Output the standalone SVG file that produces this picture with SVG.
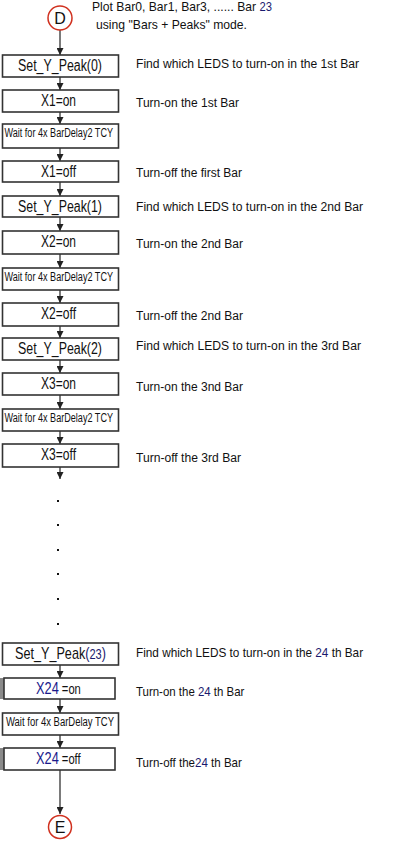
<svg xmlns="http://www.w3.org/2000/svg" width="406" height="841" viewBox="0 0 406 841">
<style>
.box{fill:#fff;stroke:#333;stroke-width:1.6}
.lbl{font-family:"Liberation Sans",Arial,sans-serif;font-size:16px;fill:#111}
.wt{font-family:"Liberation Sans",Arial,sans-serif;font-size:12.5px;fill:#111}
.cm{font-family:"Liberation Sans",Arial,sans-serif;font-size:12px;fill:#111}
.nv{fill:#1a1a6e}
.bl{fill:#1a1a8c}
.term{fill:#fff;stroke:#d0301e;stroke-width:1.5}
.conn line{stroke:#222;stroke-width:1.2;marker-end:url(#ah)}
.dot{fill:#111}
</style>
<defs>
<marker id="ah" markerUnits="userSpaceOnUse" markerWidth="7" markerHeight="7" refX="7" refY="3.5" orient="auto">
<path d="M0,0 L7,3.5 L0,7 z" fill="#222"/>
</marker>
</defs>
<rect width="406" height="841" fill="#fff"/>

<g id="title">
<text class="lbl" transform="translate(92,11) scale(0.935,1)" style="font-size:13px">Plot Bar0, Bar1, Bar3, ...... Bar <tspan class="nv" style="font-size:12px">23</tspan></text>
<text class="lbl" x="96" y="29" style="font-size:13px" textLength="151" lengthAdjust="spacingAndGlyphs">using "Bars + Peaks" mode.</text>
</g>

<g class="conn">
<line x1="60" y1="30" x2="60" y2="55"/>
<line x1="60" y1="77" x2="60" y2="90"/>
<line x1="60" y1="112" x2="60" y2="124"/>
<line x1="60" y1="148" x2="60" y2="161"/>
<line x1="60" y1="182" x2="60" y2="196"/>
<line x1="60" y1="217" x2="60" y2="231"/>
<line x1="60" y1="254" x2="60" y2="268"/>
<line x1="60" y1="290" x2="60" y2="303"/>
<line x1="60" y1="326" x2="60" y2="338"/>
<line x1="60" y1="360" x2="60" y2="373"/>
<line x1="60" y1="395" x2="60" y2="409"/>
<line x1="60" y1="431" x2="60" y2="444"/>
<line x1="60" y1="467" x2="60" y2="479"/>
<line x1="60" y1="665" x2="60" y2="678"/>
<line x1="60" y1="699" x2="60" y2="713"/>
<line x1="60" y1="735" x2="60" y2="748"/>
<line x1="60" y1="770" x2="60" y2="814"/>
</g>

<g id="dots">
<rect class="dot" x="57" y="500" width="2" height="2"/>
<rect class="dot" x="57" y="524" width="2" height="2"/>
<rect class="dot" x="57" y="549" width="2" height="2"/>
<rect class="dot" x="57" y="573" width="2" height="2"/>
<rect class="dot" x="57" y="598" width="2" height="2"/>
<rect class="dot" x="57" y="623" width="2" height="2"/>
</g>

<g id="D">
<circle class="term" cx="60" cy="18" r="12"/>
<text class="lbl" x="60" y="24" text-anchor="middle">D</text>
</g>

<g id="n1">
<rect class="box" x="2.5" y="55" width="116" height="22"/>
<text class="lbl" x="18" y="71" textLength="84" lengthAdjust="spacingAndGlyphs">Set_Y_Peak(0)</text>
<text class="cm" x="136" y="68" textLength="223" lengthAdjust="spacingAndGlyphs">Find which LEDS to turn-on in the 1st Bar</text>
</g>
<g id="n2">
<rect class="box" x="2.5" y="90" width="116" height="22"/>
<text class="lbl" x="41" y="106" textLength="35" lengthAdjust="spacingAndGlyphs">X1=on</text>
<text class="cm" x="136" y="107" textLength="103" lengthAdjust="spacingAndGlyphs">Turn-on the 1st Bar</text>
</g>
<g id="n3">
<rect class="box" x="2.5" y="124" width="116" height="24"/>
<text class="wt" x="4.5" y="136.5" textLength="108.5" lengthAdjust="spacingAndGlyphs">Wait for 4x BarDelay2 TCY</text>
</g>
<g id="n4">
<rect class="box" x="2.5" y="161" width="116" height="21"/>
<text class="lbl" x="41" y="177" textLength="35" lengthAdjust="spacingAndGlyphs">X1=off</text>
<text class="cm" x="136" y="177" textLength="106" lengthAdjust="spacingAndGlyphs">Turn-off the first Bar</text>
</g>
<g id="n5">
<rect class="box" x="2.5" y="196" width="116" height="21"/>
<text class="lbl" x="18" y="212" textLength="84" lengthAdjust="spacingAndGlyphs">Set_Y_Peak(1)</text>
<text class="cm" x="136" y="211" textLength="227" lengthAdjust="spacingAndGlyphs">Find which LEDS to turn-on in the 2nd Bar</text>
</g>
<g id="n6">
<rect class="box" x="2.5" y="231" width="116" height="23"/>
<text class="lbl" x="41" y="247" textLength="35" lengthAdjust="spacingAndGlyphs">X2=on</text>
<text class="cm" x="136" y="248" textLength="107" lengthAdjust="spacingAndGlyphs">Turn-on the 2nd Bar</text>
</g>
<g id="n7">
<rect class="box" x="2.5" y="268" width="116" height="22"/>
<text class="wt" x="4.5" y="280.5" textLength="108.5" lengthAdjust="spacingAndGlyphs">Wait for 4x BarDelay2 TCY</text>
</g>
<g id="n8">
<rect class="box" x="2.5" y="303" width="116" height="23"/>
<text class="lbl" x="41" y="319" textLength="35" lengthAdjust="spacingAndGlyphs">X2=off</text>
<text class="cm" x="136" y="320" textLength="107" lengthAdjust="spacingAndGlyphs">Turn-off the 2nd Bar</text>
</g>
<g id="n9">
<rect class="box" x="2.5" y="338" width="116" height="22"/>
<text class="lbl" x="18" y="354" textLength="84" lengthAdjust="spacingAndGlyphs">Set_Y_Peak(2)</text>
<text class="cm" x="136" y="350" textLength="225" lengthAdjust="spacingAndGlyphs">Find which LEDS to turn-on in the 3rd Bar</text>
</g>
<g id="n10">
<rect class="box" x="2.5" y="373" width="116" height="22"/>
<text class="lbl" x="41" y="389" textLength="35" lengthAdjust="spacingAndGlyphs">X3=on</text>
<text class="cm" x="136" y="391" textLength="107" lengthAdjust="spacingAndGlyphs">Turn-on the 3nd Bar</text>
</g>
<g id="n11">
<rect class="box" x="2.5" y="409" width="116" height="22"/>
<text class="wt" x="4.5" y="421.5" textLength="108.5" lengthAdjust="spacingAndGlyphs">Wait for 4x BarDelay2 TCY</text>
</g>
<g id="n12">
<rect class="box" x="2.5" y="444" width="116" height="23"/>
<text class="lbl" x="41" y="460" textLength="35" lengthAdjust="spacingAndGlyphs">X3=off</text>
<text class="cm" x="136" y="462" textLength="105" lengthAdjust="spacingAndGlyphs">Turn-off the 3rd Bar</text>
</g>

<g id="n13">
<rect class="box" x="2.5" y="643" width="116" height="22"/>
<text class="lbl" transform="translate(15,659) scale(0.79,1)">Set_Y_Peak<tspan class="nv">(</tspan><tspan class="nv" style="font-size:14px">23</tspan><tspan class="nv">)</tspan></text>
<text class="cm" transform="translate(136,656.5) scale(0.983,1)">Find which LEDS to turn-on in the <tspan class="nv">24</tspan> th Bar</text>
</g>
<g id="n14">
<rect x="0" y="678" width="4" height="21" fill="#8a8a8a"/>
<rect class="box" x="4" y="678" width="111" height="21"/>
<text class="lbl" transform="translate(36,694) scale(0.8,1)"><tspan class="bl">X24</tspan><tspan style="font-size:14px"> =on</tspan></text>
<text class="cm" transform="translate(136,696) scale(0.955,1)">Turn-on the <tspan class="nv">24</tspan> th Bar</text>
</g>
<g id="n15">
<rect class="box" x="2.5" y="713" width="116" height="22"/>
<text class="wt" x="6" y="725.5" textLength="108" lengthAdjust="spacingAndGlyphs">Wait for 4x BarDelay TCY</text>
</g>
<g id="n16">
<rect x="0" y="748" width="4" height="22" fill="#8a8a8a"/>
<rect class="box" x="4" y="748" width="111" height="22"/>
<text class="lbl" transform="translate(36,764) scale(0.8,1)"><tspan class="bl">X24</tspan><tspan style="font-size:14px"> =off</tspan></text>
<text class="cm" transform="translate(136,767) scale(0.963,1)">Turn-off the<tspan class="nv">24</tspan> th Bar</text>
</g>

<g id="E">
<circle class="term" cx="60" cy="827" r="11.5"/>
<text class="lbl" x="60" y="833" text-anchor="middle">E</text>
</g>
</svg>
